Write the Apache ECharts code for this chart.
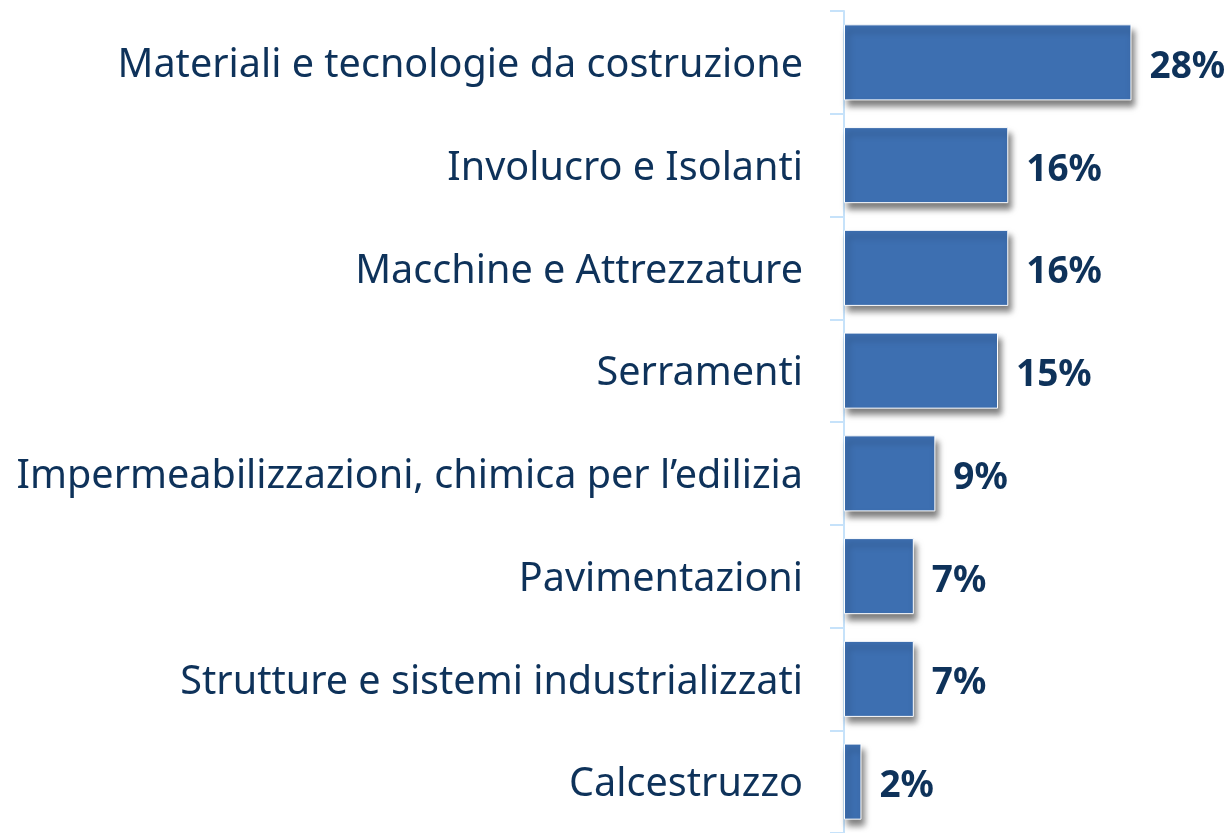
<!DOCTYPE html>
<html>
<head>
<meta charset="utf-8">
<script src="https://cdn.jsdelivr.net/npm/echarts@6/dist/echarts.min.js"></script>
<style>
html,body{margin:0;padding:0;background:#fff;}
#chart{width:1230px;height:833px;}
</style>
</head>
<body>
<div id="chart"></div>
<script>
const categories = [
  "Materiali e tecnologie da costruzione",
  "Involucro e Isolanti",
  "Macchine e Attrezzature",
  "Serramenti",
  "Impermeabilizzazioni, chimica per l\u2019edilizia",
  "Pavimentazioni",
  "Strutture e sistemi industrializzati",
  "Calcestruzzo"
];
const values = [28.0, 16.0, 16.0, 15.0, 8.9, 6.8, 6.8, 1.7];
const valueLabels = ["28%", "16%", "16%", "15%", "9%", "7%", "7%", "2%"];

const chart = echarts.init(document.getElementById('chart'));
chart.setOption({
  animation: false,
  grid: { left: 844, right: 1, top: 11, height: 824, containLabel: false },
  xAxis: {
    type: 'value', min: 0, max: 37.5, show: false
  },
  yAxis: {
    type: 'category', data: categories, inverse: true,
    axisLine: { show: true, lineStyle: { color: '#c6e2fa', width: 2 } },
    axisTick: { show: true, length: 14, lineStyle: { color: '#c6e2fa', width: 2 } },
    axisLabel: {
      margin: 41,
      formatter: v => '{c|' + v + '}',
      rich: { c: { color: '#0e325a', fontSize: 39.6, fontFamily: 'Noto Sans', padding: [7, 0, 0, 0] } }
    },
    splitLine: { show: false }
  },
  series: [{
    type: 'bar',
    data: values,
    barWidth: '74%',
    itemStyle: {
      color: '#3d6fb1',
      borderColor: '#ffffff', borderWidth: 1,
      shadowColor: 'rgba(0,0,0,0.5)', shadowBlur: 6, shadowOffsetX: 3, shadowOffsetY: 6
    },
    label: {
      show: true, position: 'right', distance: 18, offset: [0, 5],
      color: '#0e325a', fontSize: 37, fontWeight: 'bold', fontFamily: 'Noto Sans',
      formatter: p => valueLabels[p.dataIndex]
    }
  }]
});
</script>
</body>
</html>
